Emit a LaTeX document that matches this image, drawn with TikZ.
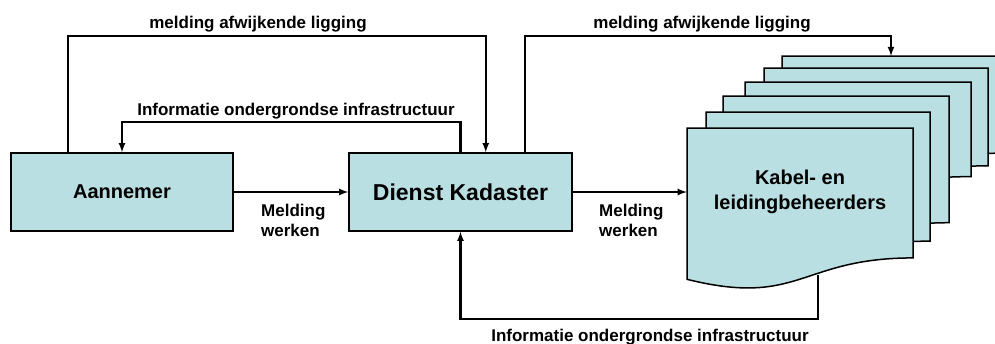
\documentclass[tikz,border=0pt]{standalone}
\usepackage{fontspec}
\setmainfont{Liberation Sans}
\definecolor{boxblue}{RGB}{185,223,226}

\begin{document}
\begin{tikzpicture}[x=1pt,y=-1pt,
    box/.style={draw=black,line width=1.5pt,fill=boxblue,minimum height=78pt,inner sep=0pt},
    page/.style={draw=black,line width=1.5pt,fill=boxblue},
    arr/.style={-latex,line width=2.1pt},
    lbl/.style={font=\fontsize{17}{20}\selectfont\bfseries,inner sep=0pt}]
    \useasboundingbox (0,0) rectangle (995,343);
    \node[box,minimum width=222pt,font=\fontsize{20}{25}\selectfont\bfseries] (aannemer) at (122,192) {Aannemer};
    \node[box,minimum width=223pt,font=\fontsize{23}{28}\selectfont\bfseries] (kadaster) at (460.5,192) {Dienst Kadaster};
    \foreach \l/\t/\r/\h in {782/56/1008/121, 764/68/988/122, 745/82/971/118, 723/96/949/158, 706/112/930/161, 687/128/913/162}
        \draw[page] (\l,\t) -| ({\r},{\t+0.802*\h}) .. controls ({(\l+\r)/2},{\t+0.802*\h}) and ({(\l+\r)/2},{\t+1.1075*\h}) .. ({\l},{\t+0.934*\h}) -- cycle;
    \node[align=center,minimum width=226pt,inner sep=0pt,font=\fontsize{20}{25}\selectfont\bfseries] (kabel) at (800,192) {Kabel- en\\leidingbeheerders};
    \coordinate (stacktop) at (891,56);
    \coordinate (kabelfoot) at (818,275);
    \draw[arr] (aannemer) -- (kadaster);
    \draw[arr] (kadaster) -- (kabel);
    \draw[arr] ([xshift=58pt]aannemer.north west) -- ++(0,-116) -| ([xshift=-87pt]kadaster.north east);
    \draw[arr] (kadaster.north) -- ++(0,-30) -| (aannemer.north);
    \draw[arr] ([xshift=-48pt]kadaster.north east) -- ++(0,-116) -| (stacktop);
    \draw[arr] (kabelfoot) -- ++(0,44) -| (kadaster.south);
    \node[lbl,anchor=base] (afwijking1) at (258,28) {melding afwijkende ligging};
    \node[lbl,anchor=base] (afwijking2) at (702,28) {melding afwijkende ligging};
    \node[lbl,anchor=base] (info1) at (296,115) {Informatie ondergrondse infrastructuur};
    \node[lbl,anchor=base] (info2) at (650,341) {Informatie ondergrondse infrastructuur};
    \node[lbl,align=left,anchor=north west] (melding1) at (261,204) {Melding\\werken};
    \node[lbl,align=left,anchor=north west] (melding2) at (599,204) {Melding\\werken};
\end{tikzpicture}
\end{document}
